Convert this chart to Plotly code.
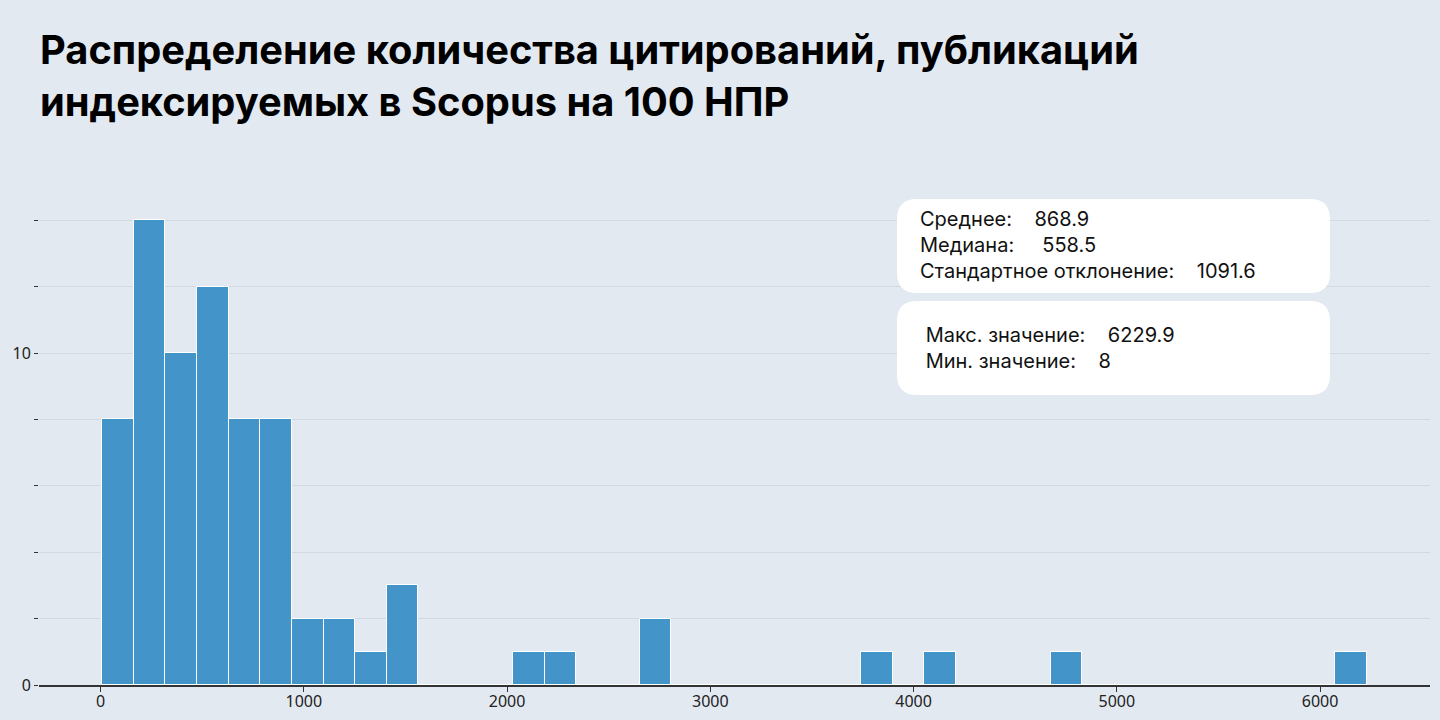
import plotly.graph_objects as go

# ---------------- data ----------------
title_lines = [
    "Распределение количества цитирований, публикаций",
    "индексируемых в Scopus на 100 НПР",
]
counts = [8, 14, 10, 12, 8, 8, 2, 2, 1, 3,
          0, 0, 0, 1, 1, 0, 0, 2, 0, 0,
          0, 0, 0, 0, 1, 0, 1, 0, 0, 0,
          1, 0, 0, 0, 0, 0, 0, 0, 0, 1]
n_bins = 40
min_val = 8
max_val = 6229.9
mean_val = 868.9
median_val = 558.5
std_val = 1091.6
x_tick_vals = [0, 1000, 2000, 3000, 4000, 5000, 6000]
y_tick_vals = [0, 2, 4, 6, 8, 10, 12, 14]
y_tick_text = ["0", "", "", "", "", "10", "", ""]

# ---------------- derived ----------------
bin_w = (max_val - min_val) / n_bins
centers = [min_val + (i + 0.5) * bin_w for i in range(n_bins)]
span = max_val - min_val
x_range = [min_val - 0.05 * span, max_val + 0.05 * span]
y_range = [0, max(counts) * 1.05]

W, H = 1440, 720
L, R, T, B = 39, 10, 197, 35
plot_w = W - L - R
plot_h = H - T - B

BG = "#E3E9F1"
BAR = "#4394C8"
NB = "\u00a0"


def px(x):
    return (x - L) / plot_w


def py(y):
    return (H - B - y) / plot_h


def rounded_rect(x0, y0, x1, y1, r):
    pts = [
        f"M {px(x0 + r)},{py(y0)}",
        f"L {px(x1 - r)},{py(y0)}",
        f"Q {px(x1)},{py(y0)} {px(x1)},{py(y0 + r)}",
        f"L {px(x1)},{py(y1 - r)}",
        f"Q {px(x1)},{py(y1)} {px(x1 - r)},{py(y1)}",
        f"L {px(x0 + r)},{py(y1)}",
        f"Q {px(x0)},{py(y1)} {px(x0)},{py(y1 - r)}",
        f"L {px(x0)},{py(y0 + r)}",
        f"Q {px(x0)},{py(y0)} {px(x0 + r)},{py(y0)}",
        "Z",
    ]
    return " ".join(pts)


fig = go.Figure()
fig.add_trace(go.Bar(
    x=centers,
    y=counts,
    width=bin_w,
    marker=dict(color=BAR, line=dict(color="white", width=1)),
    hoverinfo="x+y",
    showlegend=False,
))

box1 = (897, 199, 1330, 293)
box2 = (897, 301, 1330, 395)
for b in (box1, box2):
    fig.add_shape(type="path", xref="paper", yref="paper",
                  path=rounded_rect(*b, 20),
                  fillcolor="white", line=dict(width=0), layer="above")

txt_font = dict(family="Inter, Roboto, sans-serif", size=20, color="#111111")
text1 = (f"Среднее:{NB*4}{mean_val}<br>"
         f"Медиана:{NB*5}{median_val}<br>"
         f"Стандартное отклонение:{NB*4}{std_val}")
text2 = (f"{NB}Макс. значение:{NB*4}{max_val}<br>"
         f"{NB}Мин. значение:{NB*4}{min_val}")
fig.add_annotation(x=px(918), y=py((box1[1] + box1[3]) / 2 - 1), xref="paper", yref="paper",
                   xanchor="left", yanchor="middle", align="left", showarrow=False,
                   text=text1, font=txt_font)
fig.add_annotation(x=px(918), y=py((box2[1] + box2[3]) / 2), xref="paper", yref="paper",
                   xanchor="left", yanchor="middle", align="left", showarrow=False,
                   text=text2, font=txt_font)

# title
fig.add_annotation(x=px(38), y=py(76), xref="paper", yref="paper",
                   xanchor="left", yanchor="middle", align="left", showarrow=False,
                   text="<br>".join(title_lines),
                   font=dict(family="Inter, Roboto, sans-serif", size=39.8,
                             color="#000000", weight=700))

tick_font = dict(family="Noto Sans, Open Sans, sans-serif", size=16, color="#222222")
fig.update_layout(
    width=W, height=H,
    paper_bgcolor=BG, plot_bgcolor=BG,
    margin=dict(l=L, r=R, t=T, b=B),
    bargap=0,
    xaxis=dict(
        range=x_range, tickvals=x_tick_vals,
        showgrid=False, zeroline=False, automargin=False,
        showline=True, linecolor="#333333", linewidth=1.5,
        ticks="outside", ticklen=5, tickcolor="#333333",
        ticklabelstandoff=-4,
        tickfont=tick_font,
    ),
    yaxis=dict(
        range=y_range, tickvals=y_tick_vals, ticktext=y_tick_text,
        showgrid=True, gridcolor="#D3D9E3", gridwidth=1,
        zeroline=False, showline=False, automargin=False,
        ticks="outside", ticklen=4, tickcolor="#333333",
        tickfont=tick_font,
    ),
)

fig.write_html(
    "out.html",
    config={"displayModeBar": False},
    post_script="document.body.style.margin='0';document.body.style.background='" + BG + "';",
)
